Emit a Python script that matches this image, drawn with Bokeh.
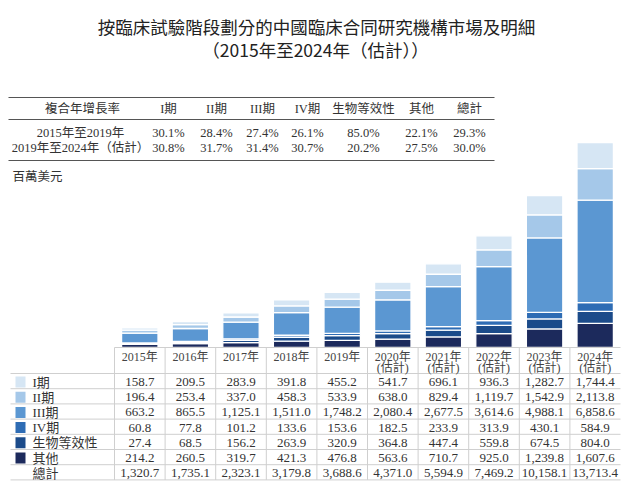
from bokeh.plotting import figure
from bokeh.models import Range1d, ColumnDataSource
from bokeh.core.properties import value
from bokeh.embed import file_html
from bokeh.resources import INLINE

# ---------------- data ----------------
years = ["2015年", "2016年", "2017年", "2018年", "2019年",
         "2020年", "2021年", "2022年", "2023年", "2024年"]
estimated = [False, False, False, False, False, True, True, True, True, True]

phase1 = [158.7, 209.5, 283.9, 391.8, 455.2, 541.7, 696.1, 936.3, 1282.7, 1744.4]
phase2 = [196.4, 253.4, 337.0, 458.3, 533.9, 638.0, 829.4, 1119.7, 1542.9, 2113.8]
phase3 = [663.2, 865.5, 1125.1, 1511.0, 1748.2, 2080.4, 2677.5, 3614.6, 4988.1, 6858.6]
phase4 = [60.8, 77.8, 101.2, 133.6, 153.6, 182.5, 233.9, 313.9, 430.1, 584.9]
bioeq = [27.4, 68.5, 156.2, 263.9, 320.9, 364.8, 447.4, 559.8, 674.5, 804.0]
others = [214.2, 260.5, 319.7, 421.3, 476.8, 563.6, 710.7, 925.0, 1239.8, 1607.6]
totals = [1320.7, 1735.1, 2323.1, 3179.8, 3688.6, 4371.0, 5594.9, 7469.2, 10158.1, 13713.4]

series_labels = ["I期", "II期", "III期", "IV期", "生物等效性", "其他"]
series_values = [phase1, phase2, phase3, phase4, bioeq, others]
series_colors = ["#d6e6f4", "#a5c8e9", "#5b97d2", "#2e6cb4", "#1b4b8a", "#1c2a5c"]
total_label = "總計"

cagr_title = "複合年增長率"
cagr_headers = ["I期", "II期", "III期", "IV期", "生物等效性", "其他", "總計"]
cagr_periods = ["2015年至2019年", "2019年至2024年（估計）"]
cagr_1519 = ["30.1%", "28.4%", "27.4%", "26.1%", "85.0%", "22.1%", "29.3%"]
cagr_1924 = ["30.8%", "31.7%", "31.4%", "30.7%", "20.2%", "27.5%", "30.0%"]

title1 = "按臨床試驗階段劃分的中國臨床合同研究機構市場及明細"
title2 = "（2015年至2024年（估計））"
unit_label = "百萬美元"
est_label = "(估計)"

# ---------------- layout (page pixels) ----------------
W, H = 626, 488
SERIF = value("Liberation Serif, Noto Sans CJK TC")
SANS = value("Noto Sans CJK TC")
TXT = "#333333"

COL_LEFT = 114
COL_W = 50.6
BASE_Y = 347                # bar base
BAR_PX = 205.0              # pixel height of tallest bar
scale = BAR_PX / max(totals)

p = figure(width=W, height=H, x_range=Range1d(0, W), y_range=Range1d(H, 0),
           output_backend="svg", toolbar_location=None, min_border=0,
           x_axis_location=None, y_axis_location=None)
p.grid.visible = False
p.outline_line_color = None
p.background_fill_color = "white"

first_center = COL_LEFT + COL_W / 2
p.extra_x_ranges = {"yr": Range1d(-first_center / COL_W, (W - first_center) / COL_W)}
p.extra_y_ranges = {"val": Range1d(-(H - BASE_Y) / scale, BASE_Y / scale)}

# ---------------- stacked bars ----------------
idx = list(range(len(years)))
stack_keys = ["s%d" % k for k in range(len(series_labels))]
data = {"x": idx}
for k, vals in zip(stack_keys, series_values):
    data[k] = vals
src = ColumnDataSource(data)
order = list(reversed(range(len(series_labels))))  # bottom: 其他 ... top: I期
p.vbar_stack([stack_keys[k] for k in order], x="x", width=0.72,
             color=[series_colors[k] for k in order], line_color="white", line_width=1.3,
             source=src, x_range_name="yr", y_range_name="val")

# ---------------- title ----------------
p.text(x=[316], y=[26], text=[title1], text_font=SANS, text_font_size="17.5px",
       text_align="center", text_baseline="middle", text_color="#222222")
p.text(x=[315], y=[49], text=[title2], text_font=SANS, text_font_size="17.5px",
       text_align="center", text_baseline="middle", text_color="#222222")

# ---------------- CAGR table ----------------
cagr_x = [168, 216, 262, 307, 363, 421, 469]
p.segment(x0=[8] * 3, x1=[494] * 3, y0=[97, 119, 160], y1=[97, 119, 160],
          line_color="#555555", line_width=1.2)
p.text(x=[82] + cagr_x, y=[108] * 8, text=[cagr_title] + cagr_headers,
       text_font=SERIF, text_font_size="12.5px", text_align="center", text_baseline="middle",
       text_color=TXT)
p.text(x=[80] + cagr_x, y=[132] * 8, text=[cagr_periods[0]] + cagr_1519,
       text_font=SERIF, text_font_size="12.5px", text_align="center", text_baseline="middle",
       text_color=TXT)
p.text(x=[80] + cagr_x, y=[147] * 8, text=[cagr_periods[1]] + cagr_1924,
       text_font=SERIF, text_font_size="12.5px", text_align="center", text_baseline="middle",
       text_color=TXT)
p.text(x=[12], y=[176], text=[unit_label], text_font=SERIF, text_font_size="12.5px",
       text_align="left", text_baseline="middle", text_color=TXT)

# ---------------- data table ----------------
ROW0 = 381.5
ROW_H = 15.2
LINE0 = 373
n_rows = len(series_labels) + 1
GRID = "#cfcfcf"

# horizontal lines
hy = [LINE0 + ROW_H * r for r in range(n_rows + 1)]
p.segment(x0=[10] * len(hy), x1=[620] * len(hy), y0=hy, y1=hy, line_color=GRID, line_width=1)
# header top line
p.segment(x0=[-0.5], x1=[len(years) - 0.5], y0=[BASE_Y], y1=[BASE_Y], line_color=GRID,
          line_width=1, x_range_name="yr")
# vertical lines
vx = [i - 0.5 for i in range(len(years))]
p.segment(x0=vx, x1=vx, y0=[BASE_Y] * len(vx), y1=[hy[-1]] * len(vx), line_color=GRID,
          line_width=1, x_range_name="yr")

# header years
p.text(x=idx, y=[356] * len(idx), text=years, text_font=SERIF, text_font_size="12px",
       text_align="center", text_baseline="middle", text_color="#444444", x_range_name="yr")
est_x = [i for i, e in zip(idx, estimated) if e]
p.text(x=est_x, y=[367] * len(est_x), text=[est_label] * len(est_x), text_font=SERIF,
       text_font_size="12px", text_align="center", text_baseline="middle", text_color="#444444",
       x_range_name="yr")

# rows
rows = series_values + [totals]
row_names = series_labels + [total_label]
for r, (name, vals) in enumerate(zip(row_names, rows)):
    y = ROW0 + ROW_H * r
    p.text(x=idx, y=[y] * len(idx), text=["{:,.1f}".format(v) for v in vals], text_font=SERIF,
           text_font_size="13px", text_align="center", text_baseline="middle", text_color=TXT,
           x_range_name="yr")
    p.text(x=[32], y=[y], text=[name], text_font=SERIF, text_font_size="13px",
           text_align="left", text_baseline="middle", text_color=TXT)

# legend squares
sq_y = [ROW0 + ROW_H * r for r in range(len(series_labels))]
p.rect(x=[20] * len(sq_y), y=sq_y, width=10, height=11, fill_color=series_colors,
       line_color=None)

open("out.html", "w").write(file_html(p, INLINE))
